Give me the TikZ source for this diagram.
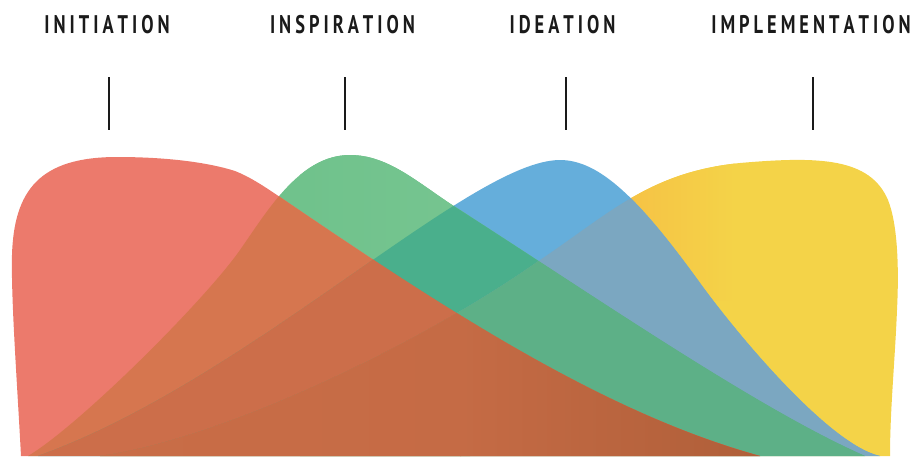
\documentclass[tikz,border=0pt]{standalone}
\usepackage{fontspec}
\newfontfamily\labfont[FakeStretch=0.72]{PT Sans}
\ExplSyntaxOn
\NewDocumentCommand\spaced{O{4pt}m}{\tl_map_inline:nn{#2}{##1\kern #1}\unkern}
\ExplSyntaxOff
\definecolor{cR}{HTML}{EC7A6C}
\definecolor{cG}{HTML}{70C28C}
\definecolor{cGl}{HTML}{76C590}
\definecolor{cB}{HTML}{65AEDB}
\definecolor{cY}{HTML}{F4D348}
\definecolor{cYo}{HTML}{F6C245}
\definecolor{cRG}{HTML}{D6764F}
\definecolor{cGB}{HTML}{4AAF8C}
\definecolor{cBY}{HTML}{7BA7C1}
\definecolor{cGBY}{HTML}{5DB087}
\definecolor{cRGB}{HTML}{CC6E4A}
\definecolor{cRGBYa}{HTML}{C96D47}
\definecolor{cRGBYm}{HTML}{C56B45}
\definecolor{cRGBYb}{HTML}{AE5E38}
\definecolor{ink}{HTML}{1A1A1A}
% shape outlines (pixel coordinates, y downwards)
\def\pR{(21,456) .. controls (17,380) and (11,300) .. (12,255) .. controls (14,190) and (40,157) .. (117,157) .. controls (170,157) and (210,163) .. (235,171) .. controls (250,177) and (262,185) .. (277,195) .. controls (437,304) and (600,412) .. (760,456) -- cycle}
\def\pG{(28,456) .. controls (80,425) and (205,300) .. (240,250) .. controls (268,210) and (300,155) .. (350,155) .. controls (390,155) and (420,185) .. (460,210) .. controls (600,300) and (760,410) .. (865,456) -- cycle}
\def\pB{(38,456) .. controls (250,380) and (470,160) .. (560,160) .. controls (600,160) and (640,200) .. (700,283) .. controls (740,338) and (830,445) .. (880,456) -- cycle}
\def\pY{(100,456) .. controls (220,440) and (420,345) .. (540,260) .. controls (610,213) and (650,172) .. (740,163) .. controls (820,156) and (870,158) .. (888,200) .. controls (898,225) and (899,270) .. (897,310) .. controls (895,360) and (890,410) .. (890,456) -- cycle}
\newcommand\pairfill[3]{\begin{scope}\clip #1;\clip #2;\fill[#3] (0,0) rectangle (919,456);\end{scope}}
\newcommand\triplefill[4]{\begin{scope}\clip #1;\clip #2;\clip #3;\fill[#4] (0,0) rectangle (919,456);\end{scope}}
\begin{document}
\begin{tikzpicture}[x=1pt,y=-1pt,
  lab/.style={inner sep=0pt,anchor=base,text=ink,font=\labfont\bfseries\fontsize{25.5}{30}\selectfont},
  tickline/.style={draw=ink,line width=2pt}]
\useasboundingbox (0,0) rectangle (919,456);
% single shapes
\fill[cY] \pY;
\begin{scope}\clip \pY;\shade[left color=cYo,right color=cY] (625,150) rectangle (735,300);\end{scope}
\fill[cB] \pB;
\fill[cG] \pG;
\begin{scope}\clip \pG;\shade[left color=cG,right color=cGl] (300,150) rectangle (470,456);\end{scope}
\fill[cR] \pR;
% pairwise overlaps
\pairfill{\pR}{\pG}{cRG}
\pairfill{\pG}{\pB}{cGB}
\pairfill{\pB}{\pY}{cBY}
\pairfill{\pR}{\pB}{cRGB}
\pairfill{\pG}{\pY}{cGBY}
\pairfill{\pR}{\pY}{cRGBYa}
% triple overlaps
\triplefill{\pR}{\pG}{\pB}{cRGB}
\triplefill{\pG}{\pB}{\pY}{cGBY}
\triplefill{\pR}{\pG}{\pY}{cRGBYa}
\triplefill{\pR}{\pB}{\pY}{cRGBYa}
% all four
\begin{scope}
\clip \pR;\clip \pG;\clip \pB;\clip \pY;
\shade[left color=cRGBYa,right color=cRGBYm] (90,150) rectangle (461,456);
\shade[left color=cRGBYm,right color=cRGBYb] (460,150) rectangle (780,456);
\end{scope}
% labels and ticks
\node[lab] (l1) at (107,33) {\spaced{INITIATION}};
\node[lab] (l2) at (342.5,33) {\spaced{INSPIRATION}};
\node[lab] (l3) at (562.5,33) {\spaced{IDEATION}};
\node[lab] (l4) at (811,33) {\spaced{IMPLEMENTATION}};
\coordinate (t1a) at (109,77); \coordinate (t1b) at (109,130);
\coordinate (t2a) at (345,77); \coordinate (t2b) at (345,130);
\coordinate (t3a) at (566,77); \coordinate (t3b) at (566,130);
\coordinate (t4a) at (813,77); \coordinate (t4b) at (813,130);
\draw[tickline] (t1a) -- (t1b);
\draw[tickline] (t2a) -- (t2b);
\draw[tickline] (t3a) -- (t3b);
\draw[tickline] (t4a) -- (t4b);
\end{tikzpicture}
\end{document}
